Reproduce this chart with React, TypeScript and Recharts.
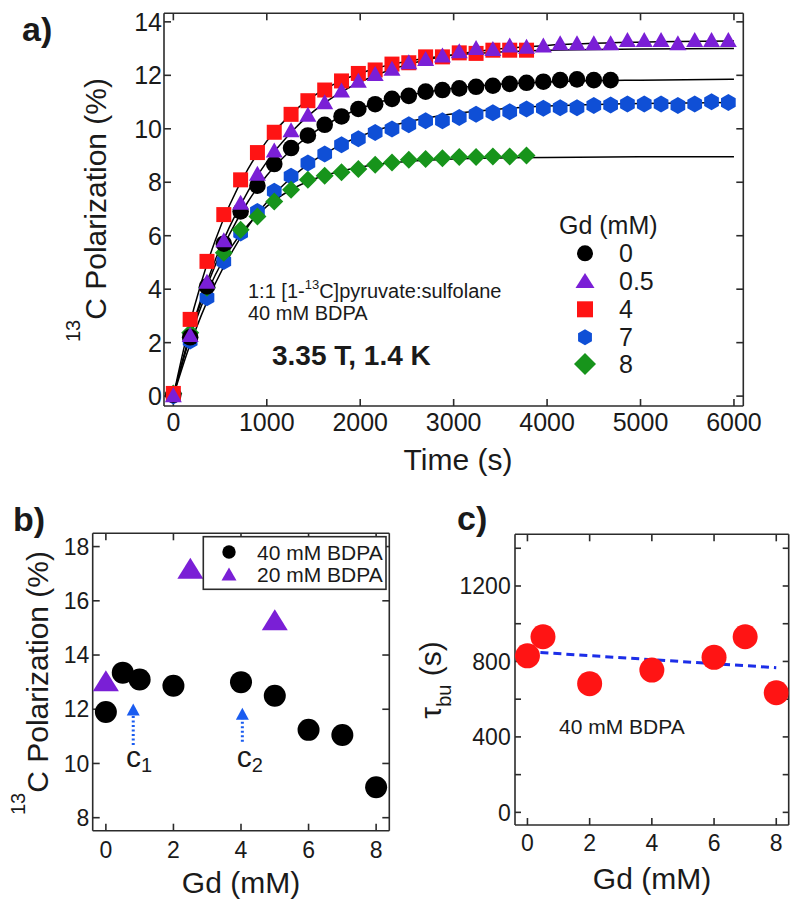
import React from "react";
import { ComposedChart, Scatter, Line, XAxis, YAxis, ReferenceLine } from "recharts";

const FONT = "'Liberation Sans', Arial, Helvetica, sans-serif";
const INK = "#1a1a1a";
const FRAME = "#2b2b2b";
const PURPLE = "#7a1fd6";
const RED = "#ff1414";
const BLUE = "#0f4fd6";
const GREEN = "#17941b";
const ARROW = "#1a5cf0";

// ---- panel a: build-up curves, one point every 180 s ----
const tShort = [0, 180, 360, 540, 720, 900, 1080, 1260, 1440, 1620, 1800, 1980, 2160, 2340, 2520, 2700, 2880, 3060, 3240, 3420, 3600, 3780];
const tMid = [...tShort, 3960, 4140, 4320, 4500, 4680];
const tLong = [...tMid, 4860, 5040, 5220, 5400, 5580, 5760, 5940];

const pBlack = [0.05, 2.2, 4.1, 5.7, 6.91, 7.87, 8.68, 9.28, 9.75, 10.15, 10.46, 10.74, 10.92, 11.12, 11.23, 11.39, 11.45, 11.51, 11.57, 11.61, 11.68, 11.72, 11.76, 11.82, 11.85, 11.82, 11.82];
const pPurple = [0.05, 2.3, 4.3, 5.85, 7.25, 8.34, 9.21, 9.96, 10.54, 11.01, 11.45, 11.82, 12.07, 12.26, 12.51, 12.63, 12.76, 12.92, 13.04, 13.0, 13.13, 13.09, 13.13, 13.22, 13.22, 13.22, 13.22, 13.34, 13.34, 13.34, 13.22, 13.34, 13.34, 13.34];
const pRed = [0.1, 2.87, 5.04, 6.79, 8.09, 9.11, 9.87, 10.54, 11.05, 11.45, 11.79, 12.07, 12.2, 12.42, 12.47, 12.69, 12.69, 12.84, 12.82, 12.94, 12.94, 12.94];
const pBlue = [0, 2.06, 3.68, 5.04, 6.1, 6.91, 7.66, 8.22, 8.72, 9.06, 9.4, 9.63, 9.86, 9.99, 10.15, 10.3, 10.3, 10.42, 10.54, 10.6, 10.64, 10.74, 10.77, 10.79, 10.79, 10.87, 10.89, 10.93, 10.93, 10.93, 10.87, 10.93, 11.01, 10.98];
const pGreen = [0.1, 2.37, 4.05, 5.36, 6.22, 6.72, 7.28, 7.72, 8.09, 8.24, 8.37, 8.5, 8.65, 8.74, 8.84, 8.87, 8.9, 8.94, 8.94, 8.96, 8.96, 9.0];

// fitted curves (black lines)
const fitT = [0, 150, 300, 450, 600, 800, 1000, 1250, 1500, 1800, 2200, 2600, 3000, 3500, 4000, 5000, 6000];
const fitBlack = [0, 1.94, 3.56, 4.91, 6.05, 7.28, 8.25, 9.17, 9.86, 10.46, 10.99, 11.31, 11.52, 11.67, 11.75, 11.82, 11.85];
const fitPurple = [0, 1.98, 3.67, 5.1, 6.32, 7.67, 8.76, 9.83, 10.65, 11.38, 12.05, 12.49, 12.77, 12.99, 13.12, 13.24, 13.28];
const fitRed = [0, 2.34, 4.26, 5.84, 7.13, 8.5, 9.54, 10.52, 11.22, 11.8, 12.29, 12.58, 12.76, 12.87, 12.94, 12.98, 13.0];
const fitBlue = [0, 1.64, 3.03, 4.22, 5.23, 6.35, 7.25, 8.13, 8.81, 9.41, 9.97, 10.33, 10.56, 10.74, 10.85, 10.95, 10.98];
const fitGreen = [0, 1.88, 3.37, 4.54, 5.47, 6.41, 7.1, 7.7, 8.11, 8.42, 8.67, 8.8, 8.87, 8.91, 8.93, 8.95, 8.95];

const timeTicks = [0, 1000, 2000, 3000, 4000, 5000, 6000];
const polTicksA = [0, 2, 4, 6, 8, 10, 12, 14];

// ---- panel b: final polarization vs Gd ----
const gd40 = [0, 0.5, 1, 2, 4, 5, 6, 7, 8];
const pol40 = [11.9, 13.35, 13.1, 12.87, 13.0, 12.5, 11.24, 11.05, 9.12];
const gd20 = [0, 2.5, 5];
const pol20 = [13.05, 17.2, 15.3];
const arrowGd = [0.81, 4.04];
const arrowHead = [11.99, 11.83];
const arrowTail = [10.68, 10.8];
const gdTicks = [0, 2, 4, 6, 8];
const polTicksB = [8, 10, 12, 14, 16, 18];

// ---- panel c: build-up time vs Gd ----
const gdTau = [0, 0.5, 2, 4, 6, 7, 8];
const tau = [830, 931, 682, 754, 822, 931, 634];
const trendGd = [0, 8];
const trendTau = [852, 767];
const tauTicks = [0, 200, 400, 600, 800, 1000, 1200, 1400];

const zip = (xs: number[], ys: number[], k = "t") => ys.map((p, i) => ({ [k]: xs[i], p }));

/* marker shapes */
const dot = (r: number, fill: string) => (s: any) => <circle cx={s.cx} cy={s.cy} r={r} fill={fill} />;
const tri = (w: number, h: number, fill: string) => (s: any) => (
  <polygon points={`${s.cx},${s.cy - h / 2} ${s.cx + w / 2},${s.cy + h / 2} ${s.cx - w / 2},${s.cy + h / 2}`} fill={fill} />
);
const sq = (a: number, fill: string) => (s: any) => <rect x={s.cx - a / 2} y={s.cy - a / 2} width={a} height={a} fill={fill} />;
const hexPts = (cx: number, cy: number, r: number) =>
  [-90, -30, 30, 90, 150, 210].map((d) => `${cx + r * Math.cos((d * Math.PI) / 180)},${cy + r * Math.sin((d * Math.PI) / 180)}`).join(" ");
const hex = (r: number, fill: string) => (s: any) => <polygon points={hexPts(s.cx, s.cy, r)} fill={fill} />;
const diaPts = (cx: number, cy: number, r: number) => `${cx},${cy - r} ${cx + r},${cy} ${cx},${cy + r} ${cx - r},${cy}`;
const dia = (r: number, fill: string) => (s: any) => <polygon points={diaPts(s.cx, s.cy, r)} fill={fill} />;
// invisible marks, only there so the top/right frame axes get a domain
const none = () => <g />;

const tickStyle = (size: number) => ({ fontSize: size, fill: INK, fontFamily: FONT });
const line = { stroke: FRAME, strokeWidth: 1.6 };
const blank = () => "";
const every400 = (v: number) => (v % 400 === 0 ? String(v) : "");

function PanelA() {
  return (
    <ComposedChart width={800} height={490} margin={{ top: 12.3, right: 55.7, bottom: 44, left: 104 }}>
      <XAxis type="number" dataKey="t" domain={[-100, 6100]} allowDataOverflow ticks={timeTicks} interval={0}
        height={40} tickSize={-7} tickMargin={14} axisLine={line} tickLine={line} tick={tickStyle(25)} />
      <XAxis xAxisId="top" orientation="top" type="number" dataKey="t" domain={[-100, 6100]} allowDataOverflow ticks={timeTicks}
        interval={0} height={1} tickSize={-7} axisLine={line} tickLine={line} tickFormatter={blank} />
      <YAxis type="number" domain={[-0.37, 14.32]} allowDataOverflow ticks={polTicksA} interval={0}
        width={60} tickSize={-7} tickMargin={9} axisLine={line} tickLine={line} tick={tickStyle(25)} />
      <YAxis yAxisId="right" orientation="right" type="number" domain={[-0.37, 14.32]} allowDataOverflow ticks={polTicksA}
        interval={0} width={1} tickSize={-7} axisLine={line} tickLine={line} tickFormatter={blank} />
      <Scatter xAxisId="top" yAxisId="right" data={zip(fitT, fitBlack)} dataKey="p" shape={none} isAnimationActive={false} />

      <Scatter data={zip(tLong, pBlue)} dataKey="p" shape={hex(8.5, BLUE)} isAnimationActive={false} />
      <Scatter data={zip(tShort, pGreen)} dataKey="p" shape={dia(9, GREEN)} isAnimationActive={false} />
      <Scatter data={zip(tMid, pBlack)} dataKey="p" shape={dot(8.3, "#000")} isAnimationActive={false} />
      <Scatter data={zip(tShort, pRed)} dataKey="p" shape={sq(15, RED)} isAnimationActive={false} />
      <Scatter data={zip(tLong, pPurple)} dataKey="p" shape={tri(17, 15, PURPLE)} isAnimationActive={false} />

      {[fitBlack, fitPurple, fitRed, fitBlue, fitGreen].map((f, i) => (
        <Line key={i} data={zip(fitT, f)} dataKey="p" type="monotone" stroke="#000" strokeWidth={1.5}
          dot={false} activeDot={false} isAnimationActive={false} />
      ))}
    </ComposedChart>
  );
}

function PanelB() {
  return (
    <ComposedChart width={410} height={420} margin={{ top: 42.3, right: 19.7, bottom: 39.3, left: 42.7 }}>
      <XAxis type="number" dataKey="g" domain={[-0.39, 8.39]} allowDataOverflow ticks={gdTicks} interval={0}
        height={40} tickSize={-7} tickMargin={18} axisLine={line} tickLine={line} tick={tickStyle(23)} />
      <XAxis xAxisId="top" orientation="top" type="number" dataKey="g" domain={[-0.39, 8.39]} allowDataOverflow ticks={gdTicks}
        interval={0} height={1} tickSize={-7} axisLine={line} tickLine={line} tickFormatter={blank} />
      <YAxis type="number" domain={[7.52, 18.49]} allowDataOverflow ticks={polTicksB} interval={0}
        width={50} tickSize={-7} tickMargin={10.4} axisLine={line} tickLine={line} tick={tickStyle(23)} />
      <YAxis yAxisId="right" orientation="right" type="number" domain={[7.52, 18.49]} allowDataOverflow ticks={polTicksB}
        interval={0} width={1} tickSize={-7} axisLine={line} tickLine={line} tickFormatter={blank} />
      <Scatter xAxisId="top" yAxisId="right" data={zip(gd40, pol40, "g")} dataKey="p" shape={none} isAnimationActive={false} />

      {arrowGd.map((g, i) => (
        <ReferenceLine key={i} segment={[{ x: g, y: arrowTail[i] }, { x: g, y: arrowHead[i] }]}
          stroke={ARROW} strokeWidth={3} strokeDasharray="2 2.5" />
      ))}
      <Scatter data={zip(arrowGd, arrowHead, "g")} dataKey="p" shape={tri(13, 12, ARROW)} isAnimationActive={false} />
      <Scatter data={zip(gd40, pol40, "g")} dataKey="p" shape={dot(11, "#000")} isAnimationActive={false} />
      <Scatter data={zip(gd20, pol20, "g")} dataKey="p" shape={tri(26, 21, PURPLE)} isAnimationActive={false} />
    </ComposedChart>
  );
}

function PanelC() {
  return (
    <ComposedChart width={390} height={420} margin={{ top: 43.3, right: 10.3, bottom: 45, left: 45 }}>
      <XAxis type="number" dataKey="g" domain={[-0.4, 8.4]} allowDataOverflow ticks={gdTicks} interval={0}
        height={40} tickSize={-7} tickMargin={17} axisLine={line} tickLine={line} tick={tickStyle(23)} />
      <XAxis xAxisId="top" orientation="top" type="number" dataKey="g" domain={[-0.4, 8.4]} allowDataOverflow ticks={gdTicks}
        interval={0} height={1} tickSize={-7} axisLine={line} tickLine={line} tickFormatter={blank} />
      <YAxis type="number" domain={[-67, 1474]} allowDataOverflow ticks={tauTicks} interval={0} tickFormatter={every400}
        width={60} tickSize={-6} tickMargin={10.3} axisLine={line} tickLine={line} tick={tickStyle(23)} />
      <YAxis yAxisId="right" orientation="right" type="number" domain={[-67, 1474]} allowDataOverflow ticks={tauTicks}
        interval={0} width={1} tickSize={-6} axisLine={line} tickLine={line} tickFormatter={blank} />
      <Scatter xAxisId="top" yAxisId="right" data={zip(gdTau, tau, "g")} dataKey="p" shape={none} isAnimationActive={false} />

      <Scatter data={zip(gdTau, tau, "g")} dataKey="p" shape={dot(12.5, RED)} isAnimationActive={false} />
      <Line data={zip(trendGd, trendTau, "g")} dataKey="p" type="linear" stroke="#1c2ee8" strokeWidth={3}
        strokeDasharray="8 5" dot={false} activeDot={false} isAnimationActive={false} />
    </ComposedChart>
  );
}

function Overlay() {
  const t = { fontFamily: FONT, fill: INK };
  const legendA = [
    { label: "0", y: 253.3, el: <circle cx={585} cy={253.3} r={8} fill="#000" /> },
    { label: "0.5", y: 280.7, el: <polygon points="585,273 594.5,288 575.5,288" fill={PURPLE} /> },
    { label: "4", y: 309.3, el: <rect x={577} y={301.3} width={16} height={16} fill={RED} /> },
    { label: "7", y: 337.3, el: <polygon points={hexPts(585, 337.3, 8)} fill={BLUE} /> },
    { label: "8", y: 364, el: <polygon points={diaPts(585, 364, 11)} fill={GREEN} /> },
  ];
  return (
    <svg width={800} height={912} style={{ position: "absolute", left: 0, top: 0, pointerEvents: "none" }}>
      {/* panel a */}
      <text x={22} y={41} fontSize={34} fontWeight="bold" {...t}>a)</text>
      <text transform="translate(106,210) rotate(-90)" textAnchor="middle" {...t}>
        <tspan fontSize={20} dy={-26}>13</tspan>
        <tspan fontSize={30} dy={26}>C Polarization (%)</tspan>
      </text>
      <text x={458} y={470} fontSize={30} textAnchor="middle" {...t}>Time (s)</text>
      <text x={559} y={234} fontSize={25} {...t}>Gd (mM)</text>
      {legendA.map((l) => (
        <g key={l.label}>
          {l.el}
          <text x={619} y={l.y + 9} fontSize={25} {...t}>{l.label}</text>
        </g>
      ))}
      <text x={248} y={298} fontSize={20} {...t}>
        1:1 [1-<tspan fontSize={13} dy={-9}>13</tspan><tspan dy={9}>C]pyruvate:sulfolane</tspan>
      </text>
      <text x={248} y={320} fontSize={20} {...t}>40 mM BDPA</text>
      <text x={272} y={365} fontSize={28} fontWeight="bold" {...t}>3.35 T, 1.4 K</text>

      {/* panel b */}
      <text x={13} y={531} fontSize={34} fontWeight="bold" {...t}>b)</text>
      <text transform="translate(48,683) rotate(-90)" textAnchor="middle" {...t}>
        <tspan fontSize={20} dy={-23}>13</tspan>
        <tspan fontSize={30} dy={23}>C Polarization (%)</tspan>
      </text>
      <text x={241} y={893} fontSize={30} textAnchor="middle" {...t}>Gd (mM)</text>
      <rect x={203.3} y={536.7} width={182.7} height={52.6} fill="#fff" stroke={FRAME} strokeWidth={1.6} />
      <circle cx={229} cy={552} r={6.7} fill="#000" />
      <polygon points="229,567.5 236.5,580.5 221.5,580.5" fill={PURPLE} />
      <text x={257} y={559.5} fontSize={21} {...t}>40 mM BDPA</text>
      <text x={257} y={581.5} fontSize={21} {...t}>20 mM BDPA</text>
      <text x={126} y={766.7} fontSize={30} {...t}>c<tspan fontSize={20} dy={5}>1</tspan></text>
      <text x={236.7} y={766.7} fontSize={30} {...t}>c<tspan fontSize={20} dy={5}>2</tspan></text>

      {/* panel c */}
      <text x={457} y={530} fontSize={34} fontWeight="bold" {...t}>c)</text>
      <text transform="translate(441,680) rotate(-90)" textAnchor="middle" {...t}>
        <tspan fontSize={30}>τ</tspan>
        <tspan fontSize={20} dy={10}>bu</tspan>
        <tspan fontSize={30} dy={-10}> (s)</tspan>
      </text>
      <text x={652} y={889} fontSize={30} textAnchor="middle" {...t}>Gd (mM)</text>
      <text x={559} y={734} fontSize={21} {...t}>40 mM BDPA</text>
    </svg>
  );
}

export default function App() {
  return (
    <div style={{ position: "absolute", left: 0, top: 0, width: 800, height: 912, background: "#fff", fontFamily: FONT }}>
      <div style={{ position: "absolute", left: 0, top: 0 }}>
        <PanelA />
      </div>
      <div style={{ position: "absolute", left: 0, top: 490 }}>
        <PanelB />
      </div>
      <div style={{ position: "absolute", left: 410, top: 490 }}>
        <PanelC />
      </div>
      <Overlay />
    </div>
  );
}
